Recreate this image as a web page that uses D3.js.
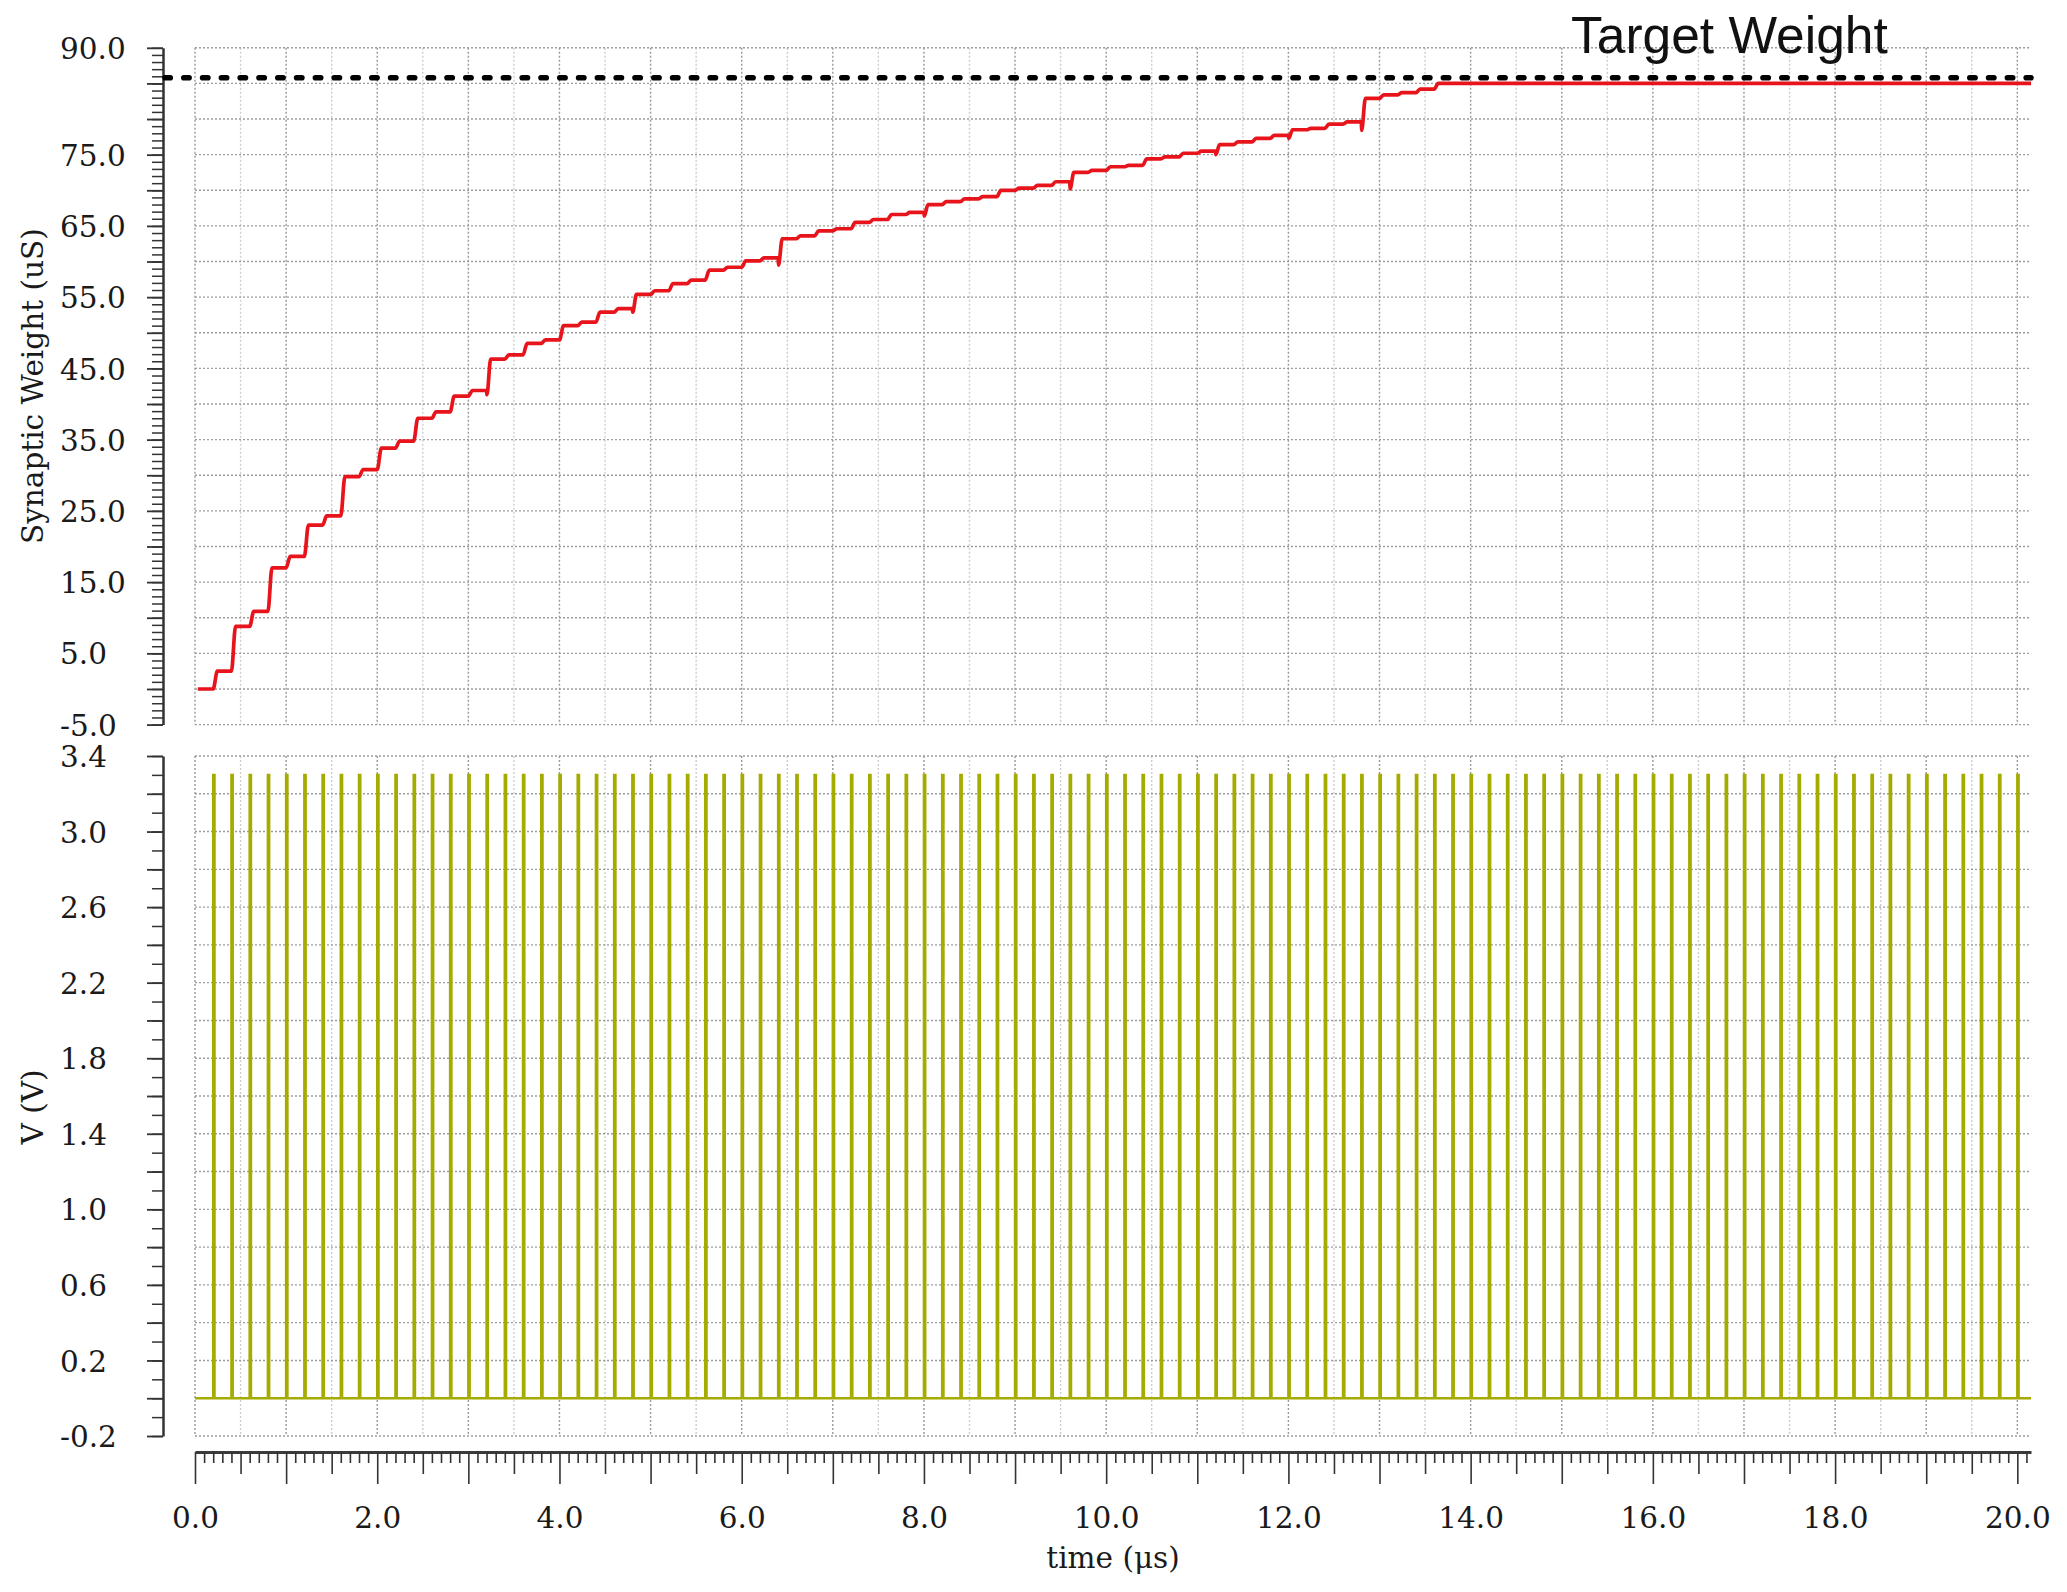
<!DOCTYPE html>
<html><head><meta charset="utf-8">
<script src="https://cdn.jsdelivr.net/npm/d3@7"></script>
<style>body{margin:0;background:#fff;} svg{display:block;}</style>
</head><body>
<svg id="chart" width="2067" height="1592"></svg>
<script>
// ---------------- DATA ----------------
const pulseTimes = [0.2,0.4,0.6,0.8,1.0,1.2,1.4,1.6,1.8,2.0,2.2,2.4,2.6,2.8,3.0,3.2,3.4,3.6,3.8,4.0,
  4.2,4.4,4.6,4.8,5.0,5.2,5.4,5.6,5.8,6.0,6.2,6.4,6.6,6.8,7.0,7.2,7.4,7.6,7.8,8.0,
  8.2,8.4,8.6,8.8,9.0,9.2,9.4,9.6,9.8,10.0,10.2,10.4,10.6,10.8,11.0,11.2,11.4,11.6,11.8,12.0,
  12.2,12.4,12.6,12.8,13.0,13.2,13.4,13.6,13.8,14.0,14.2,14.4,14.6,14.8,15.0,15.2,15.4,15.6,15.8,16.0,
  16.2,16.4,16.6,16.8,17.0,17.2,17.4,17.6,17.8,18.0,18.2,18.4,18.6,18.8,19.0,19.2,19.4,19.6,19.8,20.0];
const pulseHigh = 3.3;
const pulseLow = 0.0;
const pulseWidth = 0.014;

const weightStart = 0.03;
const weightInitial = 0.0;
const weightStepTimes = [0.2,0.4,0.6,0.8,1.0,1.2,1.4,1.6,1.8,2.0,2.2,2.4,2.6,2.8,3.0,3.2,3.4,3.6,3.8,4.0,
  4.2,4.4,4.6,4.8,5.0,5.2,5.4,5.6,5.8,6.0,6.2,6.4,6.6,6.8,7.0,7.2,7.4,7.6,7.8,8.0,
  8.2,8.4,8.6,8.8,9.0,9.2,9.4,9.6,9.8,10.0,10.2,10.4,10.6,10.8,11.0,11.2,11.4,11.6,11.8,12.0,
  12.2,12.4,12.6,12.8,13.0,13.2,13.4,13.6];
const weightStepValues = [2.5,8.8,10.9,17.0,18.6,23.0,24.3,29.8,30.8,33.8,34.8,38.0,38.9,41.1,41.9,46.3,46.9,48.5,49.0,51.0,
  51.5,52.9,53.4,55.4,55.9,56.9,57.4,58.8,59.2,60.1,60.5,63.2,63.6,64.3,64.6,65.5,65.9,66.6,66.9,68.0,
  68.4,68.8,69.1,70.0,70.3,70.7,71.2,72.5,72.8,73.3,73.5,74.4,74.7,75.2,75.5,76.4,76.8,77.3,77.7,78.5,
  78.7,79.3,79.6,82.9,83.4,83.7,84.2,85.0];
const weightDipTimes  = [3.2, 4.8, 6.4, 8.0, 9.6, 11.2, 12.0, 12.8];
const weightDipValues = [41.3, 52.9, 59.5, 66.4, 70.2, 75.0, 77.3, 78.4];
const weightEnd = 20.15;
const targetWeight = 85.8;

const xTickLabels = [0,2,4,6,8,10,12,14,16,18,20];
const yTopTickLabels = [-5,5,15,25,35,45,55,65,75,90];
const yBotTickLabels = [-0.2,0.2,0.6,1.0,1.4,1.8,2.2,2.6,3.0,3.4];

// ---------------- LAYOUT ----------------
const svg = d3.select("#chart");
const serif = "DejaVu Serif, serif";
const fmt1 = v => d3.format(".1f")(v).replace("\u2212", "-");
const x = d3.scaleLinear().domain([0, 20.15]).range([195, 2031]);
const yTop = d3.scaleLinear().domain([-5, 90]).range([724.6, 47.8]);
const yBot = d3.scaleLinear().domain([-0.2, 3.4]).range([1436, 756]);
const axisX = 163;
const xAxisY = 1452;

// ---------------- GRIDS ----------------
function grid(yScale, hVals) {
  const g = svg.append("g");
  const vVals = d3.range(0, 20.001, 0.5);
  const [y0, y1] = yScale.range();
  g.selectAll("line.v").data(vVals).join("line")
    .attr("x1", d => x(d)).attr("x2", d => x(d))
    .attr("y1", y1).attr("y2", y0)
    .attr("stroke", d => Math.abs(d - Math.round(d)) < 1e-6 ? "#999" : "#cdcdcd")
    .attr("stroke-width", 1.4).attr("stroke-dasharray", "2,2");
  g.selectAll("line.h").data(hVals).join("line")
    .attr("x1", x(0)).attr("x2", x(20.15))
    .attr("y1", d => yScale(d)).attr("y2", d => yScale(d))
    .attr("stroke", "#9c9c9c").attr("stroke-width", 1.4).attr("stroke-dasharray", "2,2");
}
grid(yTop, d3.range(-5, 90.001, 5));
grid(yBot, d3.range(-0.2, 3.4001, 0.2).map(v => +v.toFixed(1)));

// ---------------- Y AXES ----------------
function yAxis(yScale, minorVals, majorVals, labelVals) {
  const gMinor = svg.append("g").attr("transform", `translate(${axisX},0)`)
    .call(d3.axisLeft(yScale).tickValues(minorVals).tickSize(11).tickSizeOuter(0).tickFormat(""));
  gMinor.select(".domain").remove();
  gMinor.selectAll("line").attr("stroke", "#333").attr("stroke-width", 1.5);
  const labelSet = new Set(labelVals.map(v => v.toFixed(1)));
  const gMajor = svg.append("g").attr("transform", `translate(${axisX},0)`)
    .call(d3.axisLeft(yScale).tickValues(majorVals).tickSize(16).tickSizeOuter(0)
      .tickFormat(d => labelSet.has((+d).toFixed(1)) ? fmt1(d) : ""));
  gMajor.select(".domain").attr("stroke", "#333").attr("stroke-width", 2.5);
  gMajor.selectAll("line").attr("stroke", "#333").attr("stroke-width", 1.8);
  gMajor.selectAll("text")
    .attr("text-anchor", "start").attr("x", 60 - axisX).attr("dy", "0.36em")
    .attr("font-family", serif).attr("font-size", 29.5).attr("fill", "#1a1a1a");
}
yAxis(yTop, d3.range(-5, 90.001, 1), d3.range(-5, 90.001, 5), yTopTickLabels);
yAxis(yBot, d3.range(-0.2, 3.4001, 0.1).map(v => +v.toFixed(2)),
      d3.range(-0.2, 3.4001, 0.2).map(v => +v.toFixed(2)), yBotTickLabels);

// ---------------- X AXIS ----------------
const xMinor = d3.range(0, 20.1501, 0.1).map(v => +v.toFixed(1));
const gx = svg.append("g").attr("transform", `translate(0,${xAxisY})`)
  .call(d3.axisBottom(x).tickValues(xMinor).tickSize(11).tickSizeOuter(0).tickFormat(""));
gx.select(".domain").attr("stroke", "#3a3a3a").attr("stroke-width", 3);
gx.selectAll(".tick line")
  .attr("y2", d => {
    const r10 = Math.round(d * 10);
    if (r10 % 10 === 0) return 32;
    if (r10 % 5 === 0) return 22;
    return 11;
  })
  .attr("stroke", "#333").attr("stroke-width", 1.6);
const gxl = svg.append("g").attr("transform", `translate(0,${xAxisY})`)
  .call(d3.axisBottom(x).tickValues(xTickLabels).tickSize(0).tickPadding(55).tickFormat(fmt1));
gxl.select(".domain").remove();
gxl.selectAll("text").attr("font-family", serif).attr("font-size", 29.5).attr("fill", "#1a1a1a");

// ---------------- AXIS TITLES ----------------
svg.append("text").attr("x", (x(0) + x(20.15)) / 2).attr("y", 1568)
  .attr("text-anchor", "middle").attr("font-family", serif).attr("font-size", 29.5).attr("fill", "#1a1a1a")
  .text("time (μs)");
svg.append("text").attr("transform", `translate(43,${(yTop(-5) + yTop(90)) / 2}) rotate(-90)`)
  .attr("text-anchor", "middle").attr("font-family", serif).attr("font-size", 29.5).attr("fill", "#1a1a1a")
  .text("Synaptic Weight (uS)");
svg.append("text").attr("transform", `translate(43,1107) rotate(-90)`)
  .attr("text-anchor", "middle").attr("font-family", serif).attr("font-size", 29.5).attr("fill", "#1a1a1a")
  .text("V (V)");

// ---------------- PULSES ----------------
const pulsePts = [[0, pulseLow]];
pulseTimes.forEach(t => {
  pulsePts.push([t, pulseLow], [t, pulseHigh], [t + pulseWidth, pulseHigh], [t + pulseWidth, pulseLow]);
});
pulsePts.push([20.15, pulseLow]);
svg.append("path").datum(pulsePts)
  .attr("d", d3.line().x(d => x(d[0])).y(d => yBot(d[1])))
  .attr("fill", "none").attr("stroke", "#a6ab00").attr("stroke-width", 2.5);

// ---------------- TARGET WEIGHT ----------------
svg.append("line")
  .attr("x1", axisX + 2).attr("x2", x(20.15))
  .attr("y1", yTop(targetWeight)).attr("y2", yTop(targetWeight))
  .attr("stroke", "#000").attr("stroke-width", 5.6)
  .attr("stroke-linecap", "round").attr("stroke-dasharray", "5.3,13.5");
svg.append("text").attr("x", 1571).attr("y", 53)
  .attr("font-family", "Liberation Sans, Arial, sans-serif").attr("font-size", 51.5).attr("fill", "#111")
  .text("Target Weight");

// ---------------- WEIGHT CURVE ----------------
const dipMap = new Map(weightDipTimes.map((t, i) => [t.toFixed(1), weightDipValues[i]]));
const wPts = [[weightStart, weightInitial]];
let prev = weightInitial;
weightStepTimes.forEach((t, i) => {
  wPts.push([t, prev]);
  const dip = dipMap.get(t.toFixed(1));
  if (dip !== undefined) wPts.push([t + 0.004, dip]);
  wPts.push([t + 0.045, weightStepValues[i]]);
  prev = weightStepValues[i];
});
wPts.push([weightEnd, prev]);
svg.append("path").datum(wPts)
  .attr("d", d3.line().x(d => x(d[0])).y(d => yTop(d[1])).curve(d3.curveMonotoneX))
  .attr("fill", "none").attr("stroke", "#e8141c").attr("stroke-width", 3.7)
  .attr("stroke-linejoin", "round");
</script>
</body></html>
